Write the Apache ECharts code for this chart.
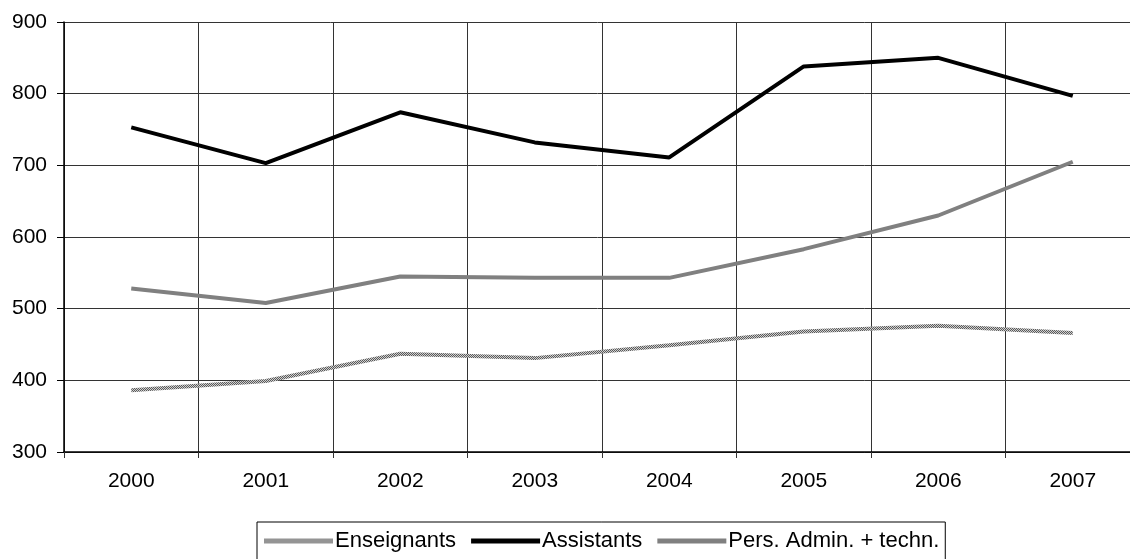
<!DOCTYPE html>
<html><head><meta charset="utf-8">
<script src="https://cdn.jsdelivr.net/npm/echarts@6/dist/echarts.min.js"></script>
<style>html,body{margin:0;padding:0;background:#fff}#c{width:1130px;height:559px}</style>
</head><body><div id="c"></div>
<script>
var years = ['2000','2001','2002','2003','2004','2005','2006','2007'];
var enseignants = [386, 399, 437, 431, 449, 468, 476, 466];
var assistants = [753, 703, 774, 732, 711, 838, 850, 797];
var persAdmin = [528, 508, 545, 543, 543, 583, 630, 705];
var yTicks = [300, 400, 500, 600, 700, 800, 900];

function checker(){
  var cv = document.createElement('canvas');
  cv.width = 2; cv.height = 2;
  var ctx = cv.getContext('2d');
  ctx.fillStyle = '#cfcfcf'; ctx.fillRect(0,0,2,2);
  ctx.fillStyle = '#5a5a5a'; ctx.fillRect(0,0,1,1); ctx.fillRect(1,1,1,1);
  return cv;
}
var pat = {image: checker(), repeat: 'repeat'};

var chart = echarts.init(document.getElementById('c'), null, {renderer:'canvas'});
var font = '"Liberation Sans", Arial, sans-serif';
chart.setOption({
  animation: false,
  grid: {left: 64, top: 22, width: 1076, height: 430, containLabel: false, outerBoundsMode: 'none'},
  xAxis: {
    type: 'category', data: years, boundaryGap: true,
    axisLine: {lineStyle: {color: '#000', width: 1.5}},
    axisTick: {show: true, length: 6, lineStyle: {color: '#333'}},
    axisLabel: {color: '#000', fontSize: 21, fontFamily: font, margin: 19},
    splitLine: {show: true, lineStyle: {color: '#333', width: 1}}
  },
  yAxis: {
    type: 'value', min: yTicks[0], max: yTicks[yTicks.length-1], interval: 100,
    axisLine: {show: true, lineStyle: {color: '#000', width: 1.5}},
    axisTick: {show: true, length: 7, lineStyle: {color: '#000'}},
    axisLabel: {color: '#000', fontSize: 21, fontFamily: font, margin: 17},
    splitLine: {show: true, lineStyle: {color: '#333', width: 1}}
  },
  legend: {
    left: 257, top: 522,
    data: [
      {name: 'Enseignants', itemStyle: {color: pat}},
      {name: 'Assistants'},
      {name: 'Pers. Admin. + techn.'}
    ],
    itemWidth: 69, itemHeight: 5, itemGap: 15,
    icon: 'rect',
    padding: [8, 6, 8, 7],
    borderColor: '#000', borderWidth: 1, borderRadius: 0,
    textStyle: {color: '#000', fontSize: 22, fontFamily: font, padding: [0,0,0,-3]}
  },
  series: [
    {name: 'Enseignants', type: 'line', data: enseignants, symbol: 'none',
     lineStyle: {color: pat, width: 4}, itemStyle: {color: pat}},
    {name: 'Assistants', type: 'line', data: assistants, symbol: 'none',
     lineStyle: {color: '#000', width: 4}, itemStyle: {color: '#000'}},
    {name: 'Pers. Admin. + techn.', type: 'line', data: persAdmin, symbol: 'none',
     lineStyle: {color: '#808080', width: 4}, itemStyle: {color: '#808080'}}
  ]
});
</script></body></html>
